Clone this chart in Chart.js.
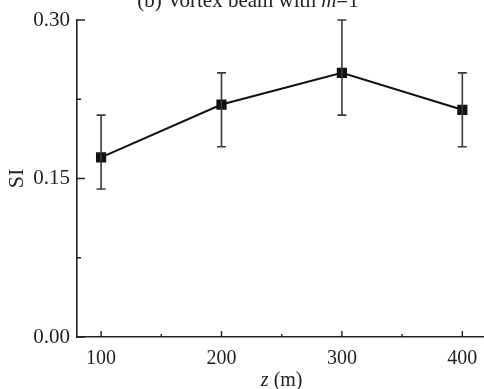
<!DOCTYPE html>
<html>
<head>
<meta charset="utf-8">
<script src="https://cdn.jsdelivr.net/npm/chart.js@4/dist/chart.umd.min.js"></script>
<style>
  html, body { margin: 0; padding: 0; background: #fff; }
  #wrap { width: 484px; height: 389px; }
</style>
</head>
<body>
<div id="wrap"><canvas id="si-chart"></canvas></div>
<script>
// distance z (m) and measured scintillation index
const distances = [100, 200, 300, 400]
const siValues = [0.17, 0.22, 0.25, 0.215]
const siLower = [0.14, 0.18, 0.21, 0.18]
const siUpper = [0.21, 0.25, 0.30, 0.25]
const xTicks = [100, 200, 300, 400]
const yTicks = [0, 0.15, 0.30]

const serif = "'Liberation Serif', 'Times New Roman', serif"

// draws mixed upright / italic text centred on cx
function mixedText(ctx, parts, cx, cy, size) {
  let total = 0
  parts.forEach(p => {
    ctx.font = (p.italic ? 'italic ' : '') + size + 'px ' + serif
    p.w = ctx.measureText(p.text).width
    total += p.w
  })
  let tx = cx - total / 2
  parts.forEach(p => {
    ctx.font = (p.italic ? 'italic ' : '') + size + 'px ' + serif
    ctx.fillText(p.text, tx, cy)
    tx += p.w
  })
}

// error bars + inward ticks + titles
const extras = {
  id: 'extras',
  afterDatasetsDraw(chart) {
    const ctx = chart.ctx
    const x = chart.scales.x
    const y = chart.scales.y
    ctx.save()
    ctx.strokeStyle = '#3a3a3a'
    ctx.lineWidth = 1.6
    distances.forEach((d, i) => {
      const px = x.getPixelForValue(d)
      const top = y.getPixelForValue(siUpper[i])
      const bot = y.getPixelForValue(siLower[i])
      ctx.beginPath()
      ctx.moveTo(px, top); ctx.lineTo(px, bot)
      ctx.moveTo(px - 4.5, top); ctx.lineTo(px + 4.5, top)
      ctx.moveTo(px - 4.5, bot); ctx.lineTo(px + 4.5, bot)
      ctx.stroke()
    })
    ctx.restore()
  },
  afterDraw(chart) {
    const ctx = chart.ctx
    const x = chart.scales.x
    const y = chart.scales.y
    const area = chart.chartArea
    ctx.save()
    ctx.strokeStyle = '#222'
    ctx.lineWidth = 1.4
    ctx.beginPath()
    yTicks.forEach(v => {
      const py = y.getPixelForValue(v)
      ctx.moveTo(area.left, py); ctx.lineTo(area.left + 8, py)
    })
    for (let i = 0; i < yTicks.length - 1; i++) {
      const py = y.getPixelForValue((yTicks[i] + yTicks[i + 1]) / 2)
      ctx.moveTo(area.left, py); ctx.lineTo(area.left + 4, py)
    }
    xTicks.forEach(v => {
      const px = x.getPixelForValue(v)
      ctx.moveTo(px, area.bottom); ctx.lineTo(px, area.bottom - 6)
    })
    for (let i = 0; i < xTicks.length - 1; i++) {
      const px = x.getPixelForValue((xTicks[i] + xTicks[i + 1]) / 2)
      ctx.moveTo(px, area.bottom); ctx.lineTo(px, area.bottom - 3)
    }
    ctx.stroke()

    ctx.fillStyle = '#222'
    ctx.textBaseline = 'alphabetic'
    // title sits partly above the canvas, like the cropped original
    mixedText(ctx, [
      { text: '(b) Vortex beam with ' },
      { text: 'm', italic: true },
      { text: '=1' }
    ], 248, 7, 21)
    // x axis title
    mixedText(ctx, [
      { text: 'z', italic: true },
      { text: ' (m)' }
    ], (x.getPixelForValue(200) + x.getPixelForValue(300)) / 2, 386, 20)
    ctx.restore()
  }
}

const canvas = document.getElementById('si-chart')
const chart = new Chart(canvas, {
  type: 'line',
  data: {
    datasets: [{
      data: distances.map((d, i) => ({ x: d, y: siValues[i] })),
      borderColor: '#111',
      backgroundColor: '#111',
      borderWidth: 2,
      pointStyle: 'rect',
      pointRadius: 5.8,
      pointHoverRadius: 5.8,
      tension: 0
    }]
  },
  options: {
    responsive: true,
    maintainAspectRatio: false,
    animation: false,
    layout: { autoPadding: false, padding: { top: 20, right: 0, left: 0, bottom: 0 } },
    plugins: {
      legend: { display: false },
      tooltip: { enabled: false }
    },
    scales: {
      x: {
        type: 'linear',
        min: 80,
        max: 418,
        afterBuildTicks: s => { s.ticks = xTicks.map(v => ({ value: v })) },
        afterFit: s => {
          s.height = 52
          s.paddingLeft = 0
          s.paddingRight = 0
        },
        grid: { display: false, drawTicks: false },
        border: { display: true, color: '#222', width: 1.6 },
        ticks: {
          padding: 10,
          color: '#222',
          maxRotation: 0,
          font: { family: serif, size: 20 }
        }
      },
      y: {
        min: 0,
        max: 0.30,
        afterBuildTicks: s => { s.ticks = yTicks.map(v => ({ value: v })) },
        afterFit: s => { s.width = 77 },
        grid: { display: false, drawTicks: false },
        border: { display: true, color: '#222', width: 1.6 },
        ticks: {
          padding: 7,
          color: '#222',
          font: { family: serif, size: 21 },
          callback: v => v.toFixed(2)
        },
        title: {
          display: true,
          text: 'SI',
          color: '#222',
          padding: { top: 4, bottom: 0 },
          font: { family: serif, size: 22 }
        }
      }
    }
  },
  plugins: [extras]
})
</script>
</body>
</html>
